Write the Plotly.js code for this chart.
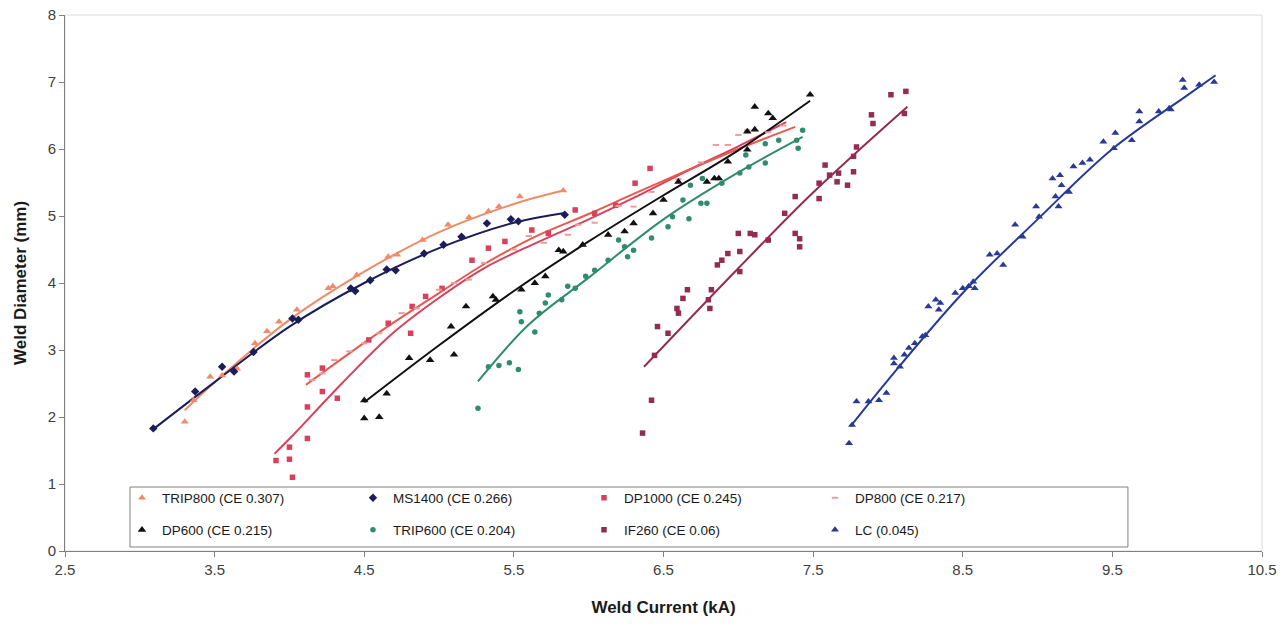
<!DOCTYPE html>
<html>
<head>
<meta charset="utf-8">
<script src="https://cdn.plot.ly/plotly-3.0.1.min.js"></script>
<style>
  html, body { margin: 0; padding: 0; background: #ffffff; }
  #chart { width: 1283px; height: 634px; }
</style>
</head>
<body>
<div id="chart"></div>
<script>
// Weld diameter vs weld current for eight steel grades, with fitted trend lines.

const seriesNames = [
  'TRIP800 (CE 0.307)', 'MS1400 (CE 0.266)', 'DP1000 (CE 0.245)', 'DP800 (CE 0.217)',
  'DP600 (CE 0.215)', 'TRIP600 (CE 0.204)', 'IF260 (CE 0.06)', 'LC (0.045)'
];

// Measured points (current kA, diameter mm)
const trip800X = [3.30, 3.36, 3.47, 3.55, 3.65, 3.77, 3.85, 3.93, 4.05, 4.26, 4.29, 4.45, 4.66, 4.72, 4.89, 5.06, 5.20, 5.33, 5.40, 5.54, 5.83];
const trip800Y = [1.93, 2.25, 2.60, 2.62, 2.72, 3.10, 3.28, 3.42, 3.60, 3.92, 3.95, 4.12, 4.39, 4.42, 4.64, 4.87, 4.98, 5.07, 5.14, 5.29, 5.38];

const ms1400X = [3.09, 3.37, 3.55, 3.63, 3.76, 4.02, 4.06, 4.41, 4.44, 4.54, 4.65, 4.71, 4.90, 5.03, 5.15, 5.32, 5.48, 5.53, 5.84];
const ms1400Y = [1.83, 2.38, 2.75, 2.68, 2.97, 3.47, 3.45, 3.92, 3.88, 4.04, 4.20, 4.19, 4.44, 4.57, 4.69, 4.89, 4.95, 4.92, 5.02];

const dp1000X = [3.91, 4.00, 4.00, 4.02, 4.12, 4.12, 4.12, 4.22, 4.22, 4.32, 4.53, 4.66, 4.81, 4.82, 4.91, 5.02, 5.22, 5.33, 5.44, 5.62, 5.73, 5.91, 6.04, 6.18, 6.31, 6.41];
const dp1000Y = [1.35, 1.55, 1.37, 1.10, 1.68, 2.15, 2.63, 2.73, 2.38, 2.28, 3.15, 3.40, 3.25, 3.65, 3.80, 3.92, 4.34, 4.52, 4.62, 4.79, 4.74, 5.09, 5.04, 5.16, 5.49, 5.71];

const dp800X = [4.15, 4.22, 4.30, 4.40, 4.50, 4.60, 4.75, 4.85, 5.00, 5.10, 5.20, 5.30, 5.50, 5.60, 5.70, 5.86, 5.93, 6.04, 6.20, 6.30, 6.42, 6.60, 6.75, 6.85, 6.93, 7.00, 7.06, 7.20, 7.30];
const dp800Y = [2.55, 2.65, 2.85, 2.98, 3.10, 3.25, 3.55, 3.62, 3.90, 4.00, 4.05, 4.30, 4.50, 4.70, 4.60, 4.72, 4.87, 4.90, 5.15, 5.14, 5.36, 5.55, 5.80, 6.06, 6.06, 6.21, 6.28, 6.25, 6.35];

const dp600X = [4.50, 4.50, 4.60, 4.65, 4.80, 4.94, 5.08, 5.10, 5.18, 5.36, 5.38, 5.55, 5.64, 5.71, 5.80, 5.83, 5.96, 6.13, 6.24, 6.30, 6.43, 6.50, 6.60, 6.79, 6.84, 6.87, 6.93, 7.06, 7.06, 7.11, 7.11, 7.20, 7.23, 7.48];
const dp600Y = [1.98, 2.25, 2.00, 2.35, 2.88, 2.85, 3.35, 2.93, 3.65, 3.80, 3.75, 3.90, 4.00, 4.10, 4.49, 4.47, 4.57, 4.72, 4.77, 4.89, 5.04, 5.24, 5.51, 5.51, 5.56, 5.56, 5.81, 5.99, 6.26, 6.29, 6.63, 6.53, 6.46, 6.81];

const trip600X = [5.26, 5.33, 5.40, 5.47, 5.53, 5.54, 5.55, 5.64, 5.67, 5.71, 5.73, 5.82, 5.86, 5.91, 5.98, 6.04, 6.13, 6.20, 6.24, 6.26, 6.30, 6.42, 6.53, 6.56, 6.63, 6.67, 6.68, 6.75, 6.76, 6.79, 6.89, 7.01, 7.05, 7.07, 7.18, 7.18, 7.27, 7.39, 7.40, 7.43];
const trip600Y = [2.13, 2.75, 2.77, 2.81, 2.71, 3.57, 3.42, 3.27, 3.55, 3.70, 3.82, 3.75, 3.95, 3.92, 4.10, 4.19, 4.34, 4.64, 4.54, 4.39, 4.49, 4.67, 4.84, 4.99, 5.24, 4.96, 5.46, 5.19, 5.56, 5.19, 5.49, 5.64, 5.91, 5.73, 5.79, 6.08, 6.13, 6.13, 6.01, 6.28];

const if260X = [6.36, 6.42, 6.44, 6.46, 6.53, 6.59, 6.60, 6.63, 6.66, 6.80, 6.81, 6.82, 6.86, 6.89, 6.93, 7.00, 7.01, 7.01, 7.08, 7.11, 7.20, 7.31, 7.38, 7.38, 7.41, 7.41, 7.54, 7.54, 7.58, 7.61, 7.66, 7.67, 7.73, 7.77, 7.77, 7.79, 7.89, 7.90, 8.02, 8.11, 8.12];
const if260Y = [1.76, 2.25, 2.92, 3.35, 3.25, 3.62, 3.55, 3.77, 3.90, 3.75, 3.62, 3.90, 4.27, 4.34, 4.44, 4.74, 4.47, 4.17, 4.74, 4.72, 4.64, 5.04, 5.29, 4.74, 4.66, 4.54, 5.26, 5.49, 5.76, 5.61, 5.51, 5.64, 5.46, 5.66, 5.89, 6.03, 6.51, 6.38, 6.81, 6.53, 6.86];

const lcX = [7.74, 7.76, 7.79, 7.87, 7.94, 7.99, 8.04, 8.04, 8.08, 8.11, 8.14, 8.18, 8.23, 8.25, 8.27, 8.32, 8.34, 8.35, 8.45, 8.50, 8.54, 8.57, 8.58, 8.68, 8.73, 8.77, 8.85, 8.90, 8.99, 9.01, 9.10, 9.12, 9.14, 9.15, 9.16, 9.21, 9.24, 9.30, 9.35, 9.44, 9.51, 9.52, 9.63, 9.68, 9.68, 9.81, 9.88, 9.89, 9.97, 9.98, 10.08, 10.18];
const lcY = [1.61, 1.88, 2.23, 2.23, 2.25, 2.36, 2.80, 2.88, 2.75, 2.93, 3.03, 3.10, 3.20, 3.22, 3.65, 3.75, 3.60, 3.70, 3.85, 3.92, 3.95, 4.02, 3.92, 4.42, 4.44, 4.27, 4.87, 4.69, 5.14, 4.99, 5.56, 5.29, 5.14, 5.61, 5.46, 5.36, 5.74, 5.79, 5.84, 6.11, 6.01, 6.24, 6.13, 6.56, 6.41, 6.56, 6.61, 6.59, 7.03, 6.91, 6.96, 7.00];

// Trend line knots
const trip800FitX = [3.30, 3.50, 4.00, 4.50, 5.00, 5.50, 5.83];
const trip800FitY = [2.10, 2.52, 3.45, 4.17, 4.76, 5.18, 5.38];
const ms1400FitX = [3.08, 3.50, 4.00, 4.50, 5.00, 5.50, 5.85];
const ms1400FitY = [1.80, 2.52, 3.35, 4.00, 4.52, 4.90, 5.05];
const dp1000FitX = [3.90, 4.02, 4.35, 4.69, 5.00, 5.30, 5.65, 6.00, 6.30, 6.70, 7.00, 7.32];
const dp1000FitY = [1.45, 1.72, 2.50, 3.25, 3.78, 4.22, 4.60, 4.95, 5.27, 5.72, 6.04, 6.40];
const dp800FitX = [4.11, 4.40, 4.69, 5.00, 5.30, 5.65, 6.00, 6.30, 6.70, 7.00, 7.38];
const dp800FitY = [2.48, 2.95, 3.40, 3.85, 4.28, 4.70, 5.03, 5.33, 5.72, 6.00, 6.33];
const dp600FitX = [4.50, 5.00, 5.50, 6.00, 6.50, 7.00, 7.48];
const dp600FitY = [2.22, 3.07, 3.88, 4.62, 5.31, 5.98, 6.72];
const trip600FitX = [5.26, 5.60, 6.00, 6.50, 7.00, 7.43];
const trip600FitY = [2.53, 3.38, 4.08, 4.95, 5.65, 6.18];
const if260FitX = [6.37, 7.00, 7.50, 8.13];
const if260FitY = [2.75, 4.22, 5.35, 6.63];
const lcFitX = [7.75, 8.00, 8.50, 9.00, 9.50, 10.00, 10.19];
const lcFitY = [1.86, 2.55, 3.85, 4.95, 6.00, 6.80, 7.10];

const xTicks = [2.5, 3.5, 4.5, 5.5, 6.5, 7.5, 8.5, 9.5, 10.5];
const yTicks = [0, 1, 2, 3, 4, 5, 6, 7, 8];

const series = [
  { x: trip800X, y: trip800Y, fx: trip800FitX, fy: trip800FitY, color: '#F08A68', line: '#F08A68', symbol: 'triangle-up', size: 7, legend: 'legend' },
  { x: ms1400X,  y: ms1400Y,  fx: ms1400FitX,  fy: ms1400FitY,  color: '#1C1C58', line: '#1C1C58', symbol: 'diamond', size: 6.5, legend: 'legend' },
  { x: dp1000X,  y: dp1000Y,  fx: dp1000FitX,  fy: dp1000FitY,  color: '#D8405E', line: '#D8405E', symbol: 'square', size: 5.5, legend: 'legend' },
  { x: dp800X,   y: dp800Y,   fx: dp800FitX,   fy: dp800FitY,   color: '#EE9C9C', line: '#E8584E', symbol: 'line-ew', size: 4.5, legend: 'legend' },
  { x: dp600X,   y: dp600Y,   fx: dp600FitX,   fy: dp600FitY,   color: '#111111', line: '#111111', symbol: 'triangle-up', size: 7.5, legend: 'legend2' },
  { x: trip600X, y: trip600Y, fx: trip600FitX, fy: trip600FitY, color: '#2F8C6C', line: '#2F8C6C', symbol: 'circle', size: 5.5, legend: 'legend2' },
  { x: if260X,   y: if260Y,   fx: if260FitX,   fy: if260FitY,   color: '#922C52', line: '#922C52', symbol: 'square', size: 5.5, legend: 'legend2' },
  { x: lcX,      y: lcY,      fx: lcFitX,      fy: lcFitY,      color: '#283A95', line: '#283A95', symbol: 'triangle-up', size: 7, legend: 'legend2' }
];

const traces = [];
series.forEach((s) => {
  traces.push({
    type: 'scatter', mode: 'lines', x: s.fx, y: s.fy,
    line: { color: s.line, width: 2, shape: 'spline', smoothing: 1 },
    hoverinfo: 'skip', showlegend: false
  });
});
series.forEach((s, i) => {
  const marker = { symbol: s.symbol, size: s.size, color: s.color };
  if (s.symbol === 'line-ew') marker.line = { color: s.color, width: 2 };
  traces.push({
    type: 'scatter', mode: 'markers', name: seriesNames[i], x: s.x, y: s.y,
    marker: marker, legend: s.legend
  });
});

const fontFamily = '"Liberation Sans", Arial, sans-serif';
const legendCommon = {
  orientation: 'h', xanchor: 'left', yanchor: 'middle', x: 0.0476,
  entrywidth: 186, entrywidthmode: 'pixels',
  bgcolor: 'rgba(0,0,0,0)', borderwidth: 0,
  font: { family: fontFamily, size: 13.5, color: '#1a1a1a' }
};

const layout = {
  width: 1283, height: 634,
  margin: { l: 65, r: 21, t: 15, b: 83 },
  paper_bgcolor: '#ffffff', plot_bgcolor: '#ffffff',
  font: { family: fontFamily, color: '#333333' },
  xaxis: {
    range: [2.5, 10.5], tickmode: 'array', tickvals: xTicks, ticktext: xTicks.map(v => String(v)),
    showgrid: false, zeroline: false, showline: true, linecolor: '#808080', linewidth: 1,
    ticks: 'outside', ticklen: 5, tickcolor: '#808080',
    tickfont: { family: fontFamily, size: 15, color: '#404040' },
    title: { text: 'Weld Current (kA)', standoff: 24, font: { family: fontFamily, size: 17, color: '#1a1a1a', weight: 'bold' } }
  },
  yaxis: {
    range: [0, 8], tickmode: 'array', tickvals: yTicks,
    showgrid: false, zeroline: false, showline: true, linecolor: '#808080', linewidth: 1,
    ticks: 'outside', ticklen: 5, tickcolor: '#808080',
    tickfont: { family: fontFamily, size: 15, color: '#404040' },
    title: { text: 'Weld Diameter (mm)', standoff: 16, font: { family: fontFamily, size: 17, color: '#1a1a1a', weight: 'bold' } }
  },
  legend: Object.assign({}, legendCommon, { y: 0.099 }),
  legend2: Object.assign({}, legendCommon, { y: 0.039 }),
  shapes: [
    { type: 'rect', xref: 'paper', yref: 'paper', x0: 0, x1: 1, y0: 0, y1: 1,
      line: { color: '#dcdcdc', width: 1 }, fillcolor: 'rgba(0,0,0,0)', layer: 'below' },
    { type: 'rect', xref: 'paper', yref: 'paper', x0: 0.0543, x1: 0.888, y0: 0.0075, y1: 0.1194,
      line: { color: '#808080', width: 1 }, fillcolor: '#ffffff', layer: 'below' }
  ],
  showlegend: true
};

Plotly.newPlot('chart', traces, layout, { displayModeBar: false, staticPlot: true });
</script>
</body>
</html>
